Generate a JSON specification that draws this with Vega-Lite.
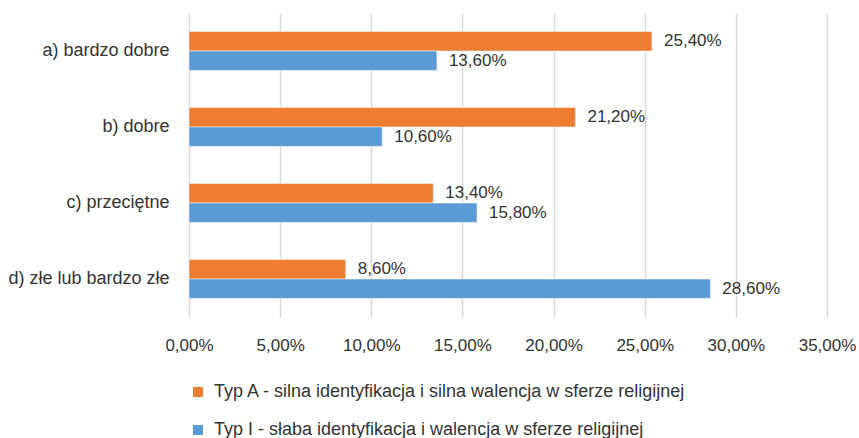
{
  "$schema": "https://vega.github.io/schema/vega-lite/v6.json",
  "autosize": "none",
  "padding": {"left": 189, "top": 13, "right": 33, "bottom": 121},
  "width": 638,
  "height": 304,
  "background": "white",
  "data": {
    "values": [
      {"kategoria": "a) bardzo dobre", "typ": "Typ A - silna identyfikacja i silna walencja w sferze religijnej", "wartosc": 0.254},
      {"kategoria": "a) bardzo dobre", "typ": "Typ I - słaba identyfikacja i walencja w sferze religijnej", "wartosc": 0.136},
      {"kategoria": "b) dobre", "typ": "Typ A - silna identyfikacja i silna walencja w sferze religijnej", "wartosc": 0.212},
      {"kategoria": "b) dobre", "typ": "Typ I - słaba identyfikacja i walencja w sferze religijnej", "wartosc": 0.106},
      {"kategoria": "c) przeciętne", "typ": "Typ A - silna identyfikacja i silna walencja w sferze religijnej", "wartosc": 0.134},
      {"kategoria": "c) przeciętne", "typ": "Typ I - słaba identyfikacja i walencja w sferze religijnej", "wartosc": 0.158},
      {"kategoria": "d) złe lub bardzo złe", "typ": "Typ A - silna identyfikacja i silna walencja w sferze religijnej", "wartosc": 0.086},
      {"kategoria": "d) złe lub bardzo złe", "typ": "Typ I - słaba identyfikacja i walencja w sferze religijnej", "wartosc": 0.286}
    ]
  },
  "encoding": {
    "y": {
      "field": "kategoria",
      "type": "nominal",
      "sort": null,
      "scale": {"paddingInner": 0.49, "paddingOuter": 0.245},
      "axis": {"title": null, "ticks": false, "tickSize": 0, "domain": false, "labelPadding": 20, "labelFontSize": 18, "labelColor": "#333333", "labelFont": "Liberation Sans"}
    },
    "yOffset": {
      "field": "typ",
      "type": "nominal",
      "sort": ["Typ A - silna identyfikacja i silna walencja w sferze religijnej", "Typ I - słaba identyfikacja i walencja w sferze religijnej"]
    },
    "x": {
      "field": "wartosc",
      "type": "quantitative",
      "scale": {"domain": [0, 0.35], "nice": false},
      "axis": {"title": null, "format": ".2%", "values": [0, 0.05, 0.1, 0.15, 0.2, 0.25, 0.3, 0.35], "ticks": false, "tickSize": 0, "domain": false, "grid": true, "gridColor": "#D9D9D9", "gridWidth": 1.5, "labelPadding": 20, "labelFontSize": 17, "labelColor": "#333333", "labelFont": "Liberation Sans", "labelFlush": false}
    }
  },
  "layer": [
    {
      "mark": {"type": "bar", "stroke": "white", "strokeWidth": 0.5},
      "encoding": {
        "color": {
          "field": "typ",
          "type": "nominal",
          "scale": {
            "domain": ["Typ A - silna identyfikacja i silna walencja w sferze religijnej", "Typ I - słaba identyfikacja i walencja w sferze religijnej"],
            "range": ["#ED7D31", "#5B9BD5"]
          },
          "legend": {
            "title": null,
            "orient": "bottom",
            "direction": "vertical",
            "offset": 30,
            "symbolType": "square",
            "symbolSize": 100,
            "symbolStrokeWidth": 0,
            "labelFontSize": 18,
            "labelFont": "Liberation Sans",
            "labelColor": "#333333",
            "labelLimit": 700,
            "rowPadding": 20,
            "labelOffset": 7
          }
        }
      }
    },
    {
      "mark": {"type": "text", "align": "left", "baseline": "middle", "dx": 12, "fontSize": 17, "font": "Liberation Sans", "color": "#333333"},
      "encoding": {
        "text": {"field": "wartosc", "type": "quantitative", "format": ".2%"}
      }
    }
  ],
  "config": {
    "view": {"stroke": null},
    "locale": {"number": {"decimal": ",", "thousands": " ", "grouping": [3], "currency": ["", " zł"], "percent": "%"}}
  }
}
